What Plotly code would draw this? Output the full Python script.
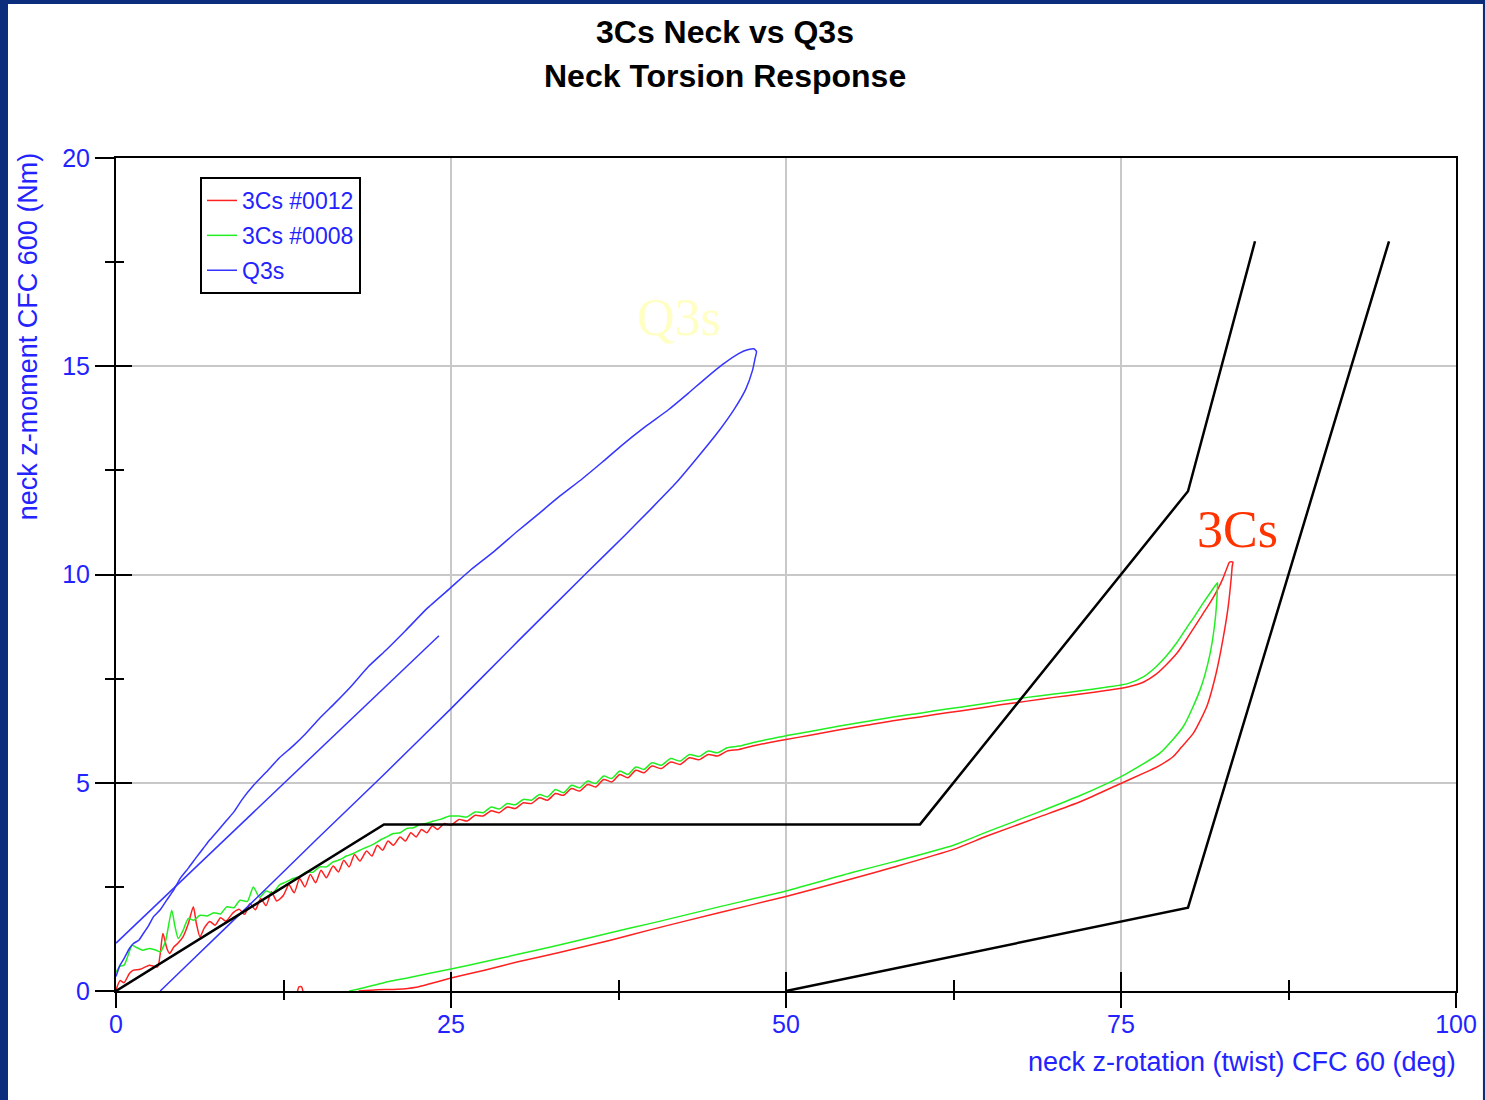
import plotly.graph_objects as go

# ---------------- data ----------------
# 3Cs #0012 (red) loading branch
red_load_x = [0.0, 0.3, 0.6, 1.0, 1.3, 1.8, 2.5, 3.1, 3.5, 3.8, 4.0, 4.3, 4.6, 5.0, 5.4, 5.77, 6.0, 6.27, 6.6, 7.0,
              7.4, 7.8, 8.2, 8.75, 9.2, 9.6, 10.0, 10.4, 10.8, 11.2, 11.6, 12.0, 12.5, 12.9, 13.3, 13.7, 14.1, 14.5,
              14.9, 15.3, 15.7, 16.2, 16.6, 17.0, 17.4, 17.8, 18.2, 18.7, 19.1, 19.5, 19.9, 20.3, 20.7, 21.2, 21.6,
              22.0, 22.4, 22.8, 23.2, 23.6, 24.0, 24.5, 25.0, 25.6, 26.2, 26.8, 27.4, 28.0, 28.6, 29.2, 29.8, 30.4,
              31.0, 31.6, 32.2, 32.8, 33.4, 34.0, 34.6, 35.2, 35.8, 36.4, 37.0, 37.6, 38.2, 38.8, 39.4, 40.0, 40.7,
              41.4, 42.1, 42.8, 43.5, 44.2, 44.9, 45.6, 46.5, 47.5, 48.5, 50.0, 52.0, 54.0, 56.0, 58.0, 60.0, 62.0,
              64.0, 66.0, 68.0, 70.0, 72.0, 74.0, 75.5, 76.7, 77.6, 78.4, 79.2, 79.9, 80.5, 81.1, 81.7, 82.2, 82.6,
              82.9, 83.1, 83.35]
red_load_y = [0.02, 0.25, 0.2, 0.42, 0.5, 0.52, 0.62, 0.58, 1.38, 1.02, 0.9, 1.05, 1.14, 1.3, 1.62, 2.02, 1.62, 1.3,
              1.52, 1.67, 1.58, 1.76, 1.68, 1.88, 1.96, 1.84, 2.1, 1.95, 2.22, 2.05, 2.38, 2.16, 2.3, 2.55, 2.36, 2.7,
              2.5, 2.8, 2.6, 2.9, 2.72, 3.0, 2.86, 3.14, 2.98, 3.28, 3.12, 3.36, 3.24, 3.5, 3.38, 3.6, 3.5, 3.7, 3.6,
              3.8, 3.7, 3.88, 3.8, 3.96, 3.88, 4.02, 3.98, 4.12, 4.08, 4.22, 4.2, 4.33, 4.28, 4.42, 4.38, 4.52, 4.5,
              4.64, 4.58, 4.74, 4.7, 4.86, 4.8, 4.96, 4.9, 5.08, 5.02, 5.2, 5.12, 5.3, 5.24, 5.4, 5.34, 5.5, 5.44,
              5.6, 5.55, 5.68, 5.64, 5.76, 5.8, 5.88, 5.95, 6.04, 6.15, 6.27, 6.38, 6.49, 6.58, 6.68, 6.77, 6.87,
              6.96, 7.05, 7.13, 7.22, 7.3, 7.42, 7.6, 7.84, 8.12, 8.45, 8.75, 9.05, 9.35, 9.63, 9.9, 10.15, 10.3,
              10.3]
# red unloading branch
red_unload_x = [83.3, 83.25, 83.0, 82.6, 82.1, 81.4, 80.4, 79.5, 78.9, 77.8, 76.7, 74.9, 72.0, 68.9, 65.0, 62.5,
                58.0, 55.0, 50.0, 45.0, 40.0, 36.9, 33.0, 30.0, 27.5, 25.0, 23.5, 22.4, 21.0, 19.5, 18.1]
red_unload_y = [10.2, 10.0, 9.23, 8.43, 7.63, 6.83, 6.19, 5.85, 5.63, 5.4, 5.23, 4.97, 4.55, 4.18, 3.72, 3.4, 2.97,
                2.7, 2.27, 1.88, 1.48, 1.22, 0.92, 0.7, 0.5, 0.31, 0.18, 0.09, 0.04, 0.03, 0.0]
# small red blip near the x axis
red_blip_x = [13.55, 13.65, 13.85, 13.95]
red_blip_y = [0.0, 0.1, 0.1, 0.0]

# 3Cs #0008 (green) loading branch
green_load_x = [0.0, 0.3, 0.6, 1.0, 1.2, 1.5, 2.0, 2.5, 3.0, 3.3, 3.7, 4.16, 4.4, 4.65, 5.0, 5.4, 5.8, 6.27, 6.8,
                7.3, 7.8, 8.26, 8.8, 9.25, 9.8, 10.25, 10.7, 11.2, 11.7, 12.2, 12.7, 13.2, 13.7, 14.2, 14.7, 15.2,
                15.7, 16.2, 16.7, 17.2, 17.7, 18.2, 18.7, 19.2, 19.7, 20.2, 20.7, 21.2, 21.7, 22.2, 22.7, 23.2, 23.7,
                24.2, 24.9, 25.6, 26.2, 26.8, 27.4, 28.0, 28.6, 29.2, 29.8, 30.4, 31.0, 31.6, 32.2, 32.8, 33.4, 34.0,
                34.6, 35.2, 35.8, 36.4, 37.0, 37.6, 38.2, 38.8, 39.4, 40.0, 40.7, 41.4, 42.1, 42.8, 43.5, 44.2, 44.9,
                45.6, 46.5, 47.5, 48.5, 50.0, 52.0, 54.0, 56.0, 58.0, 60.0, 62.0, 64.0, 66.0, 68.0, 70.0, 72.0, 74.0,
                75.5, 76.7, 77.6, 78.4, 79.2, 79.9, 80.5, 81.1, 81.7, 82.2]
green_load_y = [0.45, 0.6, 0.62, 0.95, 1.1, 1.05, 0.98, 1.02, 0.98, 0.94, 1.2, 1.94, 1.55, 1.26, 1.45, 1.74, 1.7,
                1.82, 1.8, 1.88, 1.85, 2.02, 2.0, 2.18, 2.15, 2.5, 2.25, 2.4, 2.35, 2.55, 2.62, 2.7, 2.75, 2.86, 2.85,
                2.98, 2.98, 3.1, 3.15, 3.24, 3.3, 3.38, 3.45, 3.52, 3.62, 3.7, 3.78, 3.8, 3.9, 3.92, 4.0, 4.03, 4.08,
                4.12, 4.2, 4.2, 4.18, 4.3, 4.28, 4.42, 4.37, 4.5, 4.47, 4.6, 4.58, 4.72, 4.66, 4.84, 4.76, 4.94, 4.88,
                5.04, 4.98, 5.16, 5.1, 5.28, 5.2, 5.38, 5.32, 5.48, 5.42, 5.58, 5.52, 5.68, 5.63, 5.76, 5.72, 5.84,
                5.88, 5.96, 6.03, 6.13, 6.24, 6.36, 6.47, 6.58, 6.67, 6.77, 6.86, 6.96, 7.05, 7.13, 7.21, 7.3, 7.38,
                7.55, 7.78, 8.05, 8.38, 8.72, 9.0, 9.3, 9.58, 9.8]
# green unloading branch
green_unload_x = [82.2, 82.0, 81.6, 80.9, 79.65, 77.9, 75.9, 74.9, 72.0, 68.9, 65.0, 62.5, 58.0, 55.0, 50.0, 45.0,
                  40.0, 36.9, 33.0, 30.0, 27.5, 25.0, 22.0, 20.0, 18.5, 17.4]
green_unload_y = [9.72, 8.83, 8.03, 7.23, 6.35, 5.71, 5.31, 5.13, 4.7, 4.3, 3.82, 3.5, 3.1, 2.85, 2.4, 2.02, 1.63,
                  1.4, 1.1, 0.88, 0.7, 0.53, 0.33, 0.2, 0.08, 0.0]

# Q3s (blue): straight reload segment, loading branch, unloading branch
q3s_line_x = [24.1, 0.0]
q3s_line_y = [8.53, 1.15]
q3s_up_x = [0.0, 0.3, 0.6, 1.0, 1.3, 1.7, 2.04, 2.4, 2.79, 3.3, 3.78, 4.3, 4.78, 5.4, 6.02, 6.5, 7.0, 7.6, 8.26,
            8.8, 9.42, 10.3, 11.2, 12.2, 13.2, 14.13, 15.2, 16.3, 17.5, 18.84, 20.2, 21.6, 23.2, 24.9, 26.5, 28.2,
            30.0, 31.4, 33.0, 34.8, 36.3, 37.7, 39.5, 41.2, 42.7, 44.0, 45.3, 46.5, 47.2, 47.6]
q3s_up_y = [0.35, 0.62, 0.78, 1.02, 1.14, 1.22, 1.38, 1.55, 1.78, 1.95, 2.18, 2.42, 2.7, 2.95, 3.22, 3.42, 3.63,
            3.85, 4.1, 4.3, 4.6, 4.95, 5.25, 5.6, 5.88, 6.17, 6.55, 6.9, 7.3, 7.79, 8.2, 8.65, 9.18, 9.66, 10.12,
            10.55, 11.05, 11.42, 11.85, 12.3, 12.7, 13.09, 13.55, 13.95, 14.35, 14.71, 15.05, 15.31, 15.4, 15.42]
q3s_down_x = [47.8, 47.7, 47.5, 47.0, 46.2, 45.0, 43.5, 41.8, 40.0, 38.0, 35.0, 30.0, 25.0, 20.0, 15.0, 10.0, 5.0,
              3.3]
q3s_down_y = [15.35, 15.2, 14.9, 14.45, 14.0, 13.45, 12.85, 12.2, 11.6, 10.95, 10.0, 8.4, 6.78, 5.2, 3.65, 2.08,
              0.53, 0.0]

# black corridors
corr_a_x = [0, 20, 60, 80, 85]
corr_a_y = [0, 4, 4, 12, 18]
corr_b_x = [50, 80, 95]
corr_b_y = [0, 2, 18]

x_ticks = [0, 25, 50, 75, 100]
y_ticks = [0, 5, 10, 15, 20]

# ---------------- figure ----------------
BLUE_TXT = "#2323ff"
SANS = "Liberation Sans, Arial, sans-serif"
SERIF = "Liberation Serif, Times New Roman, serif"

red_x = red_load_x + red_unload_x + [None] + red_blip_x
red_y = red_load_y + red_unload_y + [None] + red_blip_y
green_x = green_load_x + green_unload_x
green_y = green_load_y + green_unload_y
blue_x = q3s_line_x + [None] + q3s_up_x + q3s_down_x
blue_y = q3s_line_y + [None] + q3s_up_y + q3s_down_y

fig = go.Figure()
fig.add_trace(go.Scatter(x=red_x, y=red_y, mode="lines", name="3Cs #0012",
                         line=dict(color="#ff2020", width=1.5, shape="spline", smoothing=0.6),
                         legendgroup="a", connectgaps=False))
fig.add_trace(go.Scatter(x=green_x, y=green_y, mode="lines", name="3Cs #0008",
                         line=dict(color="#22ee22", width=1.5, shape="spline", smoothing=0.6),
                         legendgroup="b"))
fig.add_trace(go.Scatter(x=blue_x, y=blue_y, mode="lines", name="Q3s",
                         line=dict(color="#3535ff", width=1.5, shape="spline", smoothing=0.5),
                         legendgroup="c", connectgaps=False))
fig.add_trace(go.Scatter(x=corr_a_x, y=corr_a_y, mode="lines", showlegend=False,
                         line=dict(color="black", width=2.5)))
fig.add_trace(go.Scatter(x=corr_b_x, y=corr_b_y, mode="lines", showlegend=False,
                         line=dict(color="black", width=2.5)))
# empty trace so the overlay axes (carrying the second half of the crossing ticks) are created
fig.add_trace(go.Scatter(x=[], y=[], xaxis="x2", yaxis="y2", showlegend=False, hoverinfo="skip"))

axis_common = dict(showline=True, linecolor="black", linewidth=2, mirror=True, automargin=False,
                   showgrid=True, gridcolor="#c8c8c8", gridwidth=1.5, zeroline=False,
                   tickcolor="black", tickwidth=2,
                   tickfont=dict(family=SANS, size=25, color=BLUE_TXT))

fig.update_layout(
    width=1485, height=1100,
    margin=dict(l=116, r=29, t=158, b=109, autoexpand=False),
    paper_bgcolor="#0c2c7c",
    plot_bgcolor="white",
    xaxis=dict(range=[0, 100], tickvals=x_ticks, ticks="inside", ticklen=19, ticklabelstandoff=10,
               minor=dict(dtick=12.5, tick0=0, ticks="inside", ticklen=11, tickwidth=2,
                          tickcolor="black", showgrid=False),
               **axis_common),
    yaxis=dict(range=[0, 20], tickvals=y_ticks, ticks="outside", ticklen=19,
               minor=dict(dtick=2.5, tick0=0, ticks="outside", ticklen=9, tickwidth=2,
                          tickcolor="black", showgrid=False),
               **axis_common),
    xaxis2=dict(range=[0, 100], overlaying="x", anchor="y2", side="bottom", automargin=False,
                tickvals=x_ticks, ticks="outside", ticklen=16, tickwidth=2, tickcolor="black",
                minor=dict(dtick=12.5, tick0=0, ticks="outside", ticklen=8, tickwidth=2,
                           tickcolor="black", showgrid=False),
                showticklabels=False, showgrid=False, showline=False, zeroline=False),
    yaxis2=dict(range=[0, 20], overlaying="y", anchor="x2", side="left", automargin=False,
                tickvals=y_ticks, ticks="inside", ticklen=16, tickwidth=2, tickcolor="black",
                minor=dict(dtick=2.5, tick0=0, ticks="inside", ticklen=8, tickwidth=2,
                           tickcolor="black", showgrid=False),
                showticklabels=False, showgrid=False, showline=False, zeroline=False),
    legend=dict(x=0.0627, y=0.9772, xanchor="left", yanchor="top",
                bgcolor="white", bordercolor="black", borderwidth=2,
                font=dict(family=SANS, size=23, color=BLUE_TXT),
                tracegroupgap=2, itemwidth=30, traceorder="grouped"),
    shapes=[dict(type="rect", xref="paper", yref="paper",
                 x0=-0.0806, x1=1.0201, y0=-0.15, y1=1.1849,
                 fillcolor="white", line=dict(width=0), layer="below")],
    annotations=[
        dict(text="<b>3Cs Neck vs Q3s</b>", xref="paper", yref="paper", x=0.4545, y=1.1513,
             xanchor="center", yanchor="middle", showarrow=False,
             font=dict(family=SANS, size=32, color="black")),
        dict(text="<b>Neck Torsion Response</b>", xref="paper", yref="paper", x=0.4545, y=1.0984,
             xanchor="center", yanchor="middle", showarrow=False,
             font=dict(family=SANS, size=32, color="black")),
        dict(text="neck z-moment CFC 600 (Nm)", xref="paper", yref="paper", x=-0.0657, y=0.786,
             xanchor="center", yanchor="middle", textangle=-90, showarrow=False,
             font=dict(family=SANS, size=27, color=BLUE_TXT)),
        dict(text="neck z-rotation (twist) CFC 60 (deg)", xref="paper", yref="paper", x=1.0015, y=-0.0852,
             xanchor="right", yanchor="middle", showarrow=False,
             font=dict(family=SANS, size=27, color=BLUE_TXT)),
        dict(text="Q3s", xref="x", yref="y", x=42.0, y=16.16, xanchor="center", yanchor="middle",
             showarrow=False, font=dict(family=SERIF, size=52, color="#ffffc4")),
        dict(text="3Cs", xref="x", yref="y", x=83.66, y=11.07, xanchor="center", yanchor="middle",
             showarrow=False, font=dict(family=SERIF, size=52, color="#ff3300")),
    ],
)

fig.write_html("out.html", config={"displayModeBar": False},
               post_script="document.body.style.margin='0';document.body.style.overflow='hidden';")
